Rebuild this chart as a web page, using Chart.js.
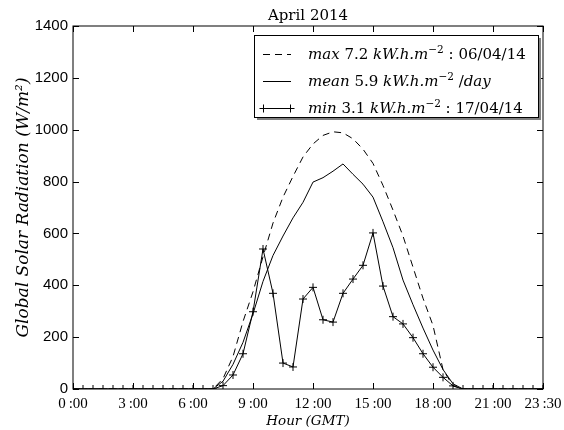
<!DOCTYPE html>
<html>
<head>
<meta charset="utf-8">
<script src="https://cdn.jsdelivr.net/npm/chart.js@4.4.1/dist/chart.umd.min.js"></script>
<style>
  html, body { margin: 0; padding: 0; background: #fff; }
  #wrap { width: 564px; height: 430px; }
</style>
</head>
<body>
<div id="wrap"><canvas id="grafica" width="564" height="430"></canvas></div>
<script>
// half-hour steps, GMT
const hours = [0,0.5,1,1.5,2,2.5,3,3.5,4,4.5,5,5.5,6,6.5,7,7.5,8,8.5,9,9.5,10,10.5,11,11.5,
               12,12.5,13,13.5,14,14.5,15,15.5,16,16.5,17,17.5,18,18.5,19,19.5,20,20.5,21,21.5,22,22.5,23,23.5];
const tickHours = [0, 3, 6, 9, 12, 15, 18, 21, 23.5];

const maxVals  = [0,0,0,0,0,0,0,0,0,0,0,0,0,0,
                  0,40,125,260,375,510,640,740,820,895,945,978,992,988,965,925,870,785,690,590,470,350,245,75,12,0,
                  0,0,0,0,0,0,0,0];
const meanVals = [0,0,0,0,0,0,0,0,0,0,0,0,0,0,
                  0,30,95,180,290,415,515,590,660,720,798,815,840,868,828,790,740,645,545,420,325,235,150,75,20,0,
                  0,0,0,0,0,0,0,0];
const minVals  = [0,0,0,0,0,0,0,0,0,0,0,0,0,0,
                  0,13,54,136,298,540,369,100,85,347,392,267,258,369,424,477,602,397,279,251,198,136,84,45,12,0,
                  0,0,0,0,0,0,0,0];

const seriesLabels = ['max 7.2 kW.h.m-2 : 06/04/14', 'mean 5.9 kW.h.m-2 /day', 'min 3.1 kW.h.m-2 : 17/04/14'];
// legend text pieces: 1 = italic, 0 = roman, 2 = superscript
const legendRows = [
  [['max',1],[' 7.2 ',0],['kW.h.m',1],['\u22122',2],[' : 06/04/14',0]],
  [['mean',1],[' 5.9 ',0],['kW.h.m',1],['\u22122',2],[' /',0],['day',1]],
  [['min',1],[' 3.1 ',0],['kW.h.m',1],['\u22122',2],[' : 17/04/14',0]]
];

const fmtHora = h => Math.floor(h) + '\u2009:' + (h % 1 ? '30' : '00');
const pts = vals => hours.map((h, i) => ({ x: h, y: vals[i] }));

const marco = {
  id: 'marco',
  beforeDraw(chart) {
    const ctx = chart.ctx;
    ctx.save(); ctx.fillStyle = '#fff'; ctx.fillRect(0, 0, chart.width, chart.height); ctx.restore();
  },
  afterDatasetsDraw(chart) {
    const { ctx, chartArea: a, scales: { x, y } } = chart;
    ctx.save();
    ctx.strokeStyle = '#000'; ctx.lineWidth = 1;
    ctx.strokeRect(a.left, a.top, a.right - a.left, a.bottom - a.top);
    ctx.beginPath();
    tickHours.forEach(v => {
      const px = Math.round(x.getPixelForValue(v)) + 0.5;
      ctx.moveTo(px, a.bottom); ctx.lineTo(px, a.bottom - 6);
      ctx.moveTo(px, a.top); ctx.lineTo(px, a.top + 6);
    });
    y.ticks.forEach(t => {
      const py = Math.round(y.getPixelForValue(t.value)) + 0.5;
      ctx.moveTo(a.left, py); ctx.lineTo(a.left + 6, py);
      ctx.moveTo(a.right, py); ctx.lineTo(a.right - 6, py);
    });
    ctx.stroke();

    // title
    ctx.fillStyle = '#000';
    ctx.font = '15px "DejaVu Serif"';
    ctx.textAlign = 'center'; ctx.textBaseline = 'alphabetic';
    ctx.fillText('April 2014', (a.left + a.right) / 2, 20);

    // legend box with shadow
    const bx = 254, by = 35, bw = 284, bh = 82;
    ctx.fillStyle = '#7f7f7f';
    ctx.fillRect(bx + 3, by + 3, bw, bh);
    ctx.fillStyle = '#fff';
    ctx.fillRect(bx, by, bw, bh);
    ctx.strokeRect(bx + 0.5, by + 0.5, bw, bh);

    const rowY = [54, 81, 108];
    chart.data.datasets.forEach((ds, i) => {
      const yy = rowY[i] + 0.5;
      ctx.save();
      ctx.setLineDash(ds.borderDash || []);
      ctx.beginPath(); ctx.moveTo(263, yy); ctx.lineTo(291, yy); ctx.stroke();
      ctx.restore();
      if (ds.pointStyle === 'cross') {
        ctx.beginPath();
        [263.5, 290.5].forEach(cx => {
          ctx.moveTo(cx, yy - 4); ctx.lineTo(cx, yy + 4);
          ctx.moveTo(cx - 4, yy); ctx.lineTo(cx + 4, yy);
        });
        ctx.stroke();
      }
      let tx = 308;
      ctx.textAlign = 'left';
      legendRows[i].forEach(([t, k]) => {
        ctx.font = k === 2 ? '10.5px "DejaVu Serif"' : (k === 1 ? 'italic 15px "DejaVu Serif"' : '15px "DejaVu Serif"');
        ctx.fillStyle = '#000';
        ctx.fillText(t, tx, rowY[i] + 5 - (k === 2 ? 6 : 0));
        tx += ctx.measureText(t).width;
      });
    });
    ctx.restore();
  }
};

new Chart(document.getElementById('grafica'), {
  type: 'line',
  data: {
    datasets: [
      { label: seriesLabels[0], data: pts(maxVals), borderColor: '#000', borderWidth: 1, borderDash: [7, 5], pointRadius: 0, fill: false, tension: 0 },
      { label: seriesLabels[1], data: pts(meanVals), borderColor: '#000', borderWidth: 1, pointRadius: 0, fill: false, tension: 0 },
      { label: seriesLabels[2], data: pts(minVals), borderColor: '#000', borderWidth: 1, pointStyle: 'cross', pointRadius: 4,
        pointBorderColor: '#000', pointBorderWidth: 1, fill: false, tension: 0 }
    ]
  },
  options: {
    responsive: false, animation: false, devicePixelRatio: 1,
    layout: { padding: { top: 26, right: 21, left: 0, bottom: 0 } },
    plugins: { legend: { display: false }, tooltip: { enabled: false }, title: { display: false } },
    scales: {
      x: {
        type: 'linear', min: 0, max: 23.5,
        grid: { display: false, drawTicks: false }, border: { display: false },
        afterBuildTicks: s => { s.ticks = tickHours.map(v => ({ value: v })); },
        afterFit: s => { s.height = 41; s.paddingLeft = 0; s.paddingRight = 0; },
        ticks: { maxRotation: 0, autoSkip: false, padding: 6, color: '#000',
                 font: { family: '"Liberation Serif"', size: 15 }, callback: v => fmtHora(v) },
        title: { display: true, text: 'Hour (GMT)', color: '#000', padding: { top: 0, bottom: 0 },
                 font: { family: '"DejaVu Serif"', style: 'italic', size: 13.5 } }
      },
      y: {
        min: 0, max: 1400,
        grid: { display: false, drawTicks: false }, border: { display: false },
        afterFit: s => { s.width = 73; s.paddingTop = 0; s.paddingBottom = 0; },
        ticks: { stepSize: 200, padding: 5, color: '#000', font: { family: '"Liberation Sans"', size: 15 },
                 callback: v => String(v) },
        title: { display: true, text: 'Global Solar Radiation (W/m\u00b2)', color: '#000', padding: { top: 13, bottom: 0 },
                 font: { family: '"DejaVu Serif"', style: 'italic', size: 17 } }
      }
    }
  },
  plugins: [marco]
});
</script>
</body>
</html>
